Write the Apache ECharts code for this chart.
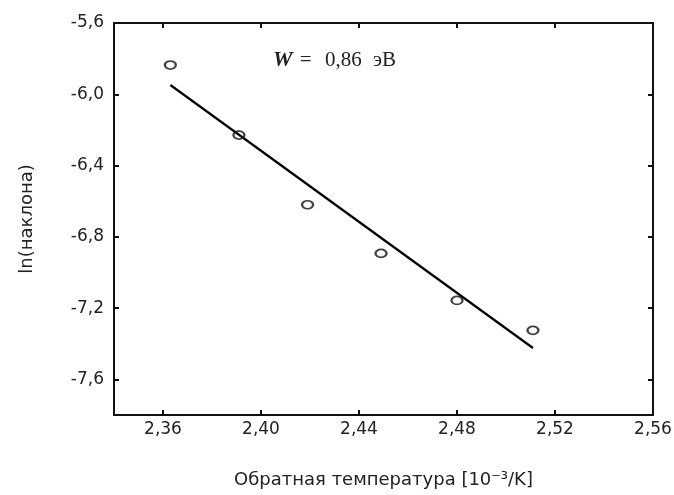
<!DOCTYPE html>
<html>
<head>
<meta charset="utf-8">
<script src="https://cdn.jsdelivr.net/npm/echarts@6/dist/echarts.min.js"></script>
<style>
html,body{margin:0;padding:0;background:#fff;}
#chart{width:674px;height:495px;}
</style>
</head>
<body>
<div id="chart"></div>
<script>
// Data
var pointX = [2.363, 2.391, 2.419, 2.449, 2.480, 2.511];
var pointY = [-5.836, -6.229, -6.620, -6.893, -7.157, -7.325];
var fitX = [2.363, 2.511];
var fitY = [-5.948, -7.424];
var xLabelValues = [2.36, 2.40, 2.44, 2.48, 2.52, 2.56];
var xTickValues = [2.36, 2.40, 2.44, 2.48, 2.52];
var yLabelValues = [-5.6, -6.0, -6.4, -6.8, -7.2, -7.6];
var yTickValues = [-6.0, -6.4, -6.8, -7.2, -7.6];
var xName = 'Обратная температура [10⁻³/K]';
var yName = 'ln(наклона)';
var annotationParts = ['W', ' =', ' 0,86', ' эВ'];

var chart = echarts.init(document.getElementById('chart'), null, {renderer: 'canvas'});
var font = 'DejaVu Sans';
var lineStyle = {color: '#111', width: 2};

function xAxisDef(pos, showLabels) {
  return {
    type: 'value', position: pos, min: 2.34, max: 2.56,
    axisLine: {show: true, onZero: false, lineStyle: lineStyle},
    axisTick: {show: true, inside: true, length: 5, customValues: xTickValues, lineStyle: lineStyle},
    axisLabel: {show: showLabels, customValues: xLabelValues, margin: 6, color: '#222', fontFamily: font, fontSize: 17,
      formatter: function (v) { return v.toFixed(2).replace('.', ','); }},
    splitLine: {show: false}
  };
}
function yAxisDef(pos, showLabels) {
  return {
    type: 'value', position: pos, min: -7.8, max: -5.6,
    axisLine: {show: true, onZero: false, lineStyle: lineStyle},
    axisTick: {show: true, inside: true, length: 5, customValues: yTickValues, lineStyle: lineStyle},
    axisLabel: {show: showLabels, customValues: yLabelValues, margin: 10, color: '#222', fontFamily: font, fontSize: 17,
      formatter: function (v) { return v.toFixed(1).replace('.', ','); }},
    splitLine: {show: false}
  };
}

var xa0 = xAxisDef('bottom', true);
xa0.name = xName;
xa0.nameLocation = 'middle';
xa0.nameGap = 56;
xa0.nameTextStyle = {color: '#222', fontFamily: font, fontSize: 18};
var ya0 = yAxisDef('left', true);
ya0.name = yName;
ya0.nameLocation = 'middle';
ya0.nameGap = 78;
ya0.nameTextStyle = {color: '#222', fontFamily: font, fontSize: 18};

chart.setOption({
  animation: false,
  backgroundColor: '#fff',
  grid: {left: 114, right: 21, top: 23, bottom: 80, containLabel: false, outerBoundsMode: 'none'},
  xAxis: [xa0, xAxisDef('top', false)],
  yAxis: [ya0, yAxisDef('right', false)],
  series: [
    {
      type: 'line', xAxisIndex: 0, yAxisIndex: 0,
      data: fitX.map(function (x, i) { return [x, fitY[i]]; }),
      showSymbol: false, symbol: 'none',
      lineStyle: {color: '#000', width: 2.2}, z: 2
    },
    {
      type: 'scatter', xAxisIndex: 0, yAxisIndex: 0,
      data: pointX.map(function (x, i) { return [x, pointY[i]]; }),
      symbol: 'circle', symbolSize: [11, 8],
      itemStyle: {color: 'rgba(0,0,0,0)', borderColor: '#111', borderWidth: 2}, z: 3
    }
  ],
  graphic: [{
    type: 'text', left: 273, top: 49,
    style: {
      text: '{w|' + annotationParts[0] + '}{e|' + annotationParts[1] + '}{n|' + annotationParts[2] + '}{u|' + annotationParts[3] + '}',
      rich: {
        w: {fontFamily: 'Liberation Serif', fontStyle: 'italic', fontWeight: 'bold', fontSize: 22, fill: '#222', padding: [0, 2, 0, 0]},
        e: {fontFamily: 'Liberation Serif', fontSize: 21, fill: '#222'},
        n: {fontFamily: 'Liberation Serif', fontSize: 21, fill: '#222', padding: [0, 0, 0, 8]},
        u: {fontFamily: 'Liberation Serif', fontSize: 21, fill: '#222', padding: [0, 0, 0, 6]}
      }
    }
  }]
});
</script>
</body>
</html>
